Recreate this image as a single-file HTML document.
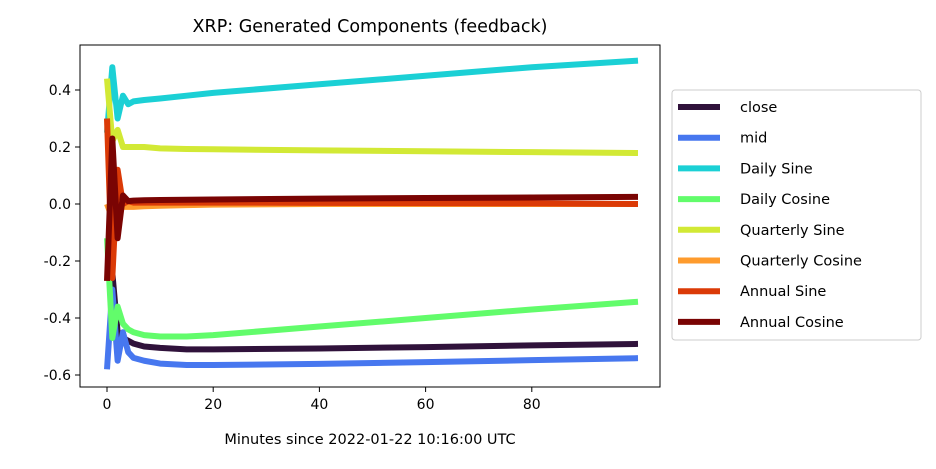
<!DOCTYPE html>
<html><head><meta charset="utf-8"><style>
body{margin:0;background:#fff;font-family:"Liberation Sans","DejaVu Sans",sans-serif}
</style></head><body>
<svg id="c" width="936" height="464" font-family="DejaVu Sans, Liberation Sans, sans-serif"></svg>
<script>
const xs=[0,1,2,3,4,5,7,10,15,20,40,60,80,100];
const close=[-0.27,-0.24,-0.45,-0.47,-0.48,-0.49,-0.5,-0.505,-0.51,-0.51,-0.507,-0.502,-0.496,-0.491];
const mid=[-0.58,-0.3,-0.55,-0.45,-0.52,-0.54,-0.55,-0.56,-0.565,-0.565,-0.561,-0.555,-0.548,-0.541];
const dailySine=[0.25,0.48,0.3,0.38,0.35,0.36,0.365,0.37,0.38,0.39,0.42,0.45,0.48,0.503];
const dailyCos=[-0.12,-0.47,-0.36,-0.42,-0.44,-0.45,-0.46,-0.465,-0.465,-0.46,-0.43,-0.4,-0.37,-0.343];
const qSine=[0.44,0.22,0.26,0.2,0.2,0.2,0.2,0.195,0.193,0.192,0.188,0.185,0.182,0.179];
const qCos=[0.0,-0.05,0.02,-0.01,-0.01,-0.01,-0.008,-0.006,-0.004,-0.002,0.0,0.0,0.0,0.0];
const aSine=[0.3,-0.26,0.12,0.0,0.01,0.005,0.005,0.005,0.005,0.005,0.004,0.003,0.002,0.0];
const aCos=[-0.27,0.23,-0.12,0.03,0.01,0.012,0.013,0.014,0.015,0.016,0.019,0.021,0.023,0.025];
const names=["close","mid","Daily Sine","Daily Cosine","Quarterly Sine","Quarterly Cosine","Annual Sine","Annual Cosine"];
const colors=["#30123b","#4777ef","#1bd0d5","#62fc6b","#d2e935","#fe9b2d","#db3a07","#7a0403"];
const series=[close,mid,dailySine,dailyCos,qSine,qCos,aSine,aCos];
const xTicks=[0,20,40,60,80];
const yTicks=[0.4,0.2,0.0,-0.2,-0.4,-0.6];
const X=v=>107+v*5.31, Y=v=>204-v*285;
const svg=document.getElementById('c');const NS='http://www.w3.org/2000/svg';
function mk(t,a,p){const e=document.createElementNS(NS,t);for(const k in a)e.setAttribute(k,a[k]);(p||svg).appendChild(e);return e;}
const clipd=mk('defs',{});const cp=mk('clipPath',{id:'cp'},clipd);mk('rect',{x:80,y:45,width:580,height:342},cp);
series.forEach((s,i)=>{const p=mk('polyline',{points:s.map((v,j)=>X(xs[j])+','+Y(v)).join(' '),fill:'none',stroke:colors[i],'stroke-width':6,'stroke-linejoin':'round','clip-path':'url(#cp)'});

});
const fr=mk('rect',{x:80,y:45,width:580,height:342,fill:'none',stroke:'#000','stroke-width':1});

xTicks.forEach(t=>{mk('line',{x1:X(t),x2:X(t),y1:387,y2:392,stroke:'#000'});const e=mk('text',{x:X(t),y:409,'font-size':14,'text-anchor':'middle'});e.textContent=t;
});
yTicks.forEach(t=>{mk('line',{x1:75,x2:80,y1:Y(t),y2:Y(t),stroke:'#000'});const e=mk('text',{x:71,y:Y(t)+5,'font-size':14,'text-anchor':'end'});e.textContent=t.toFixed(1);
});
let e=mk('text',{x:370,y:444,'font-size':14.5,'text-anchor':'middle'});e.textContent='Minutes since 2022-01-22 10:16:00 UTC';

e=mk('text',{x:370,y:32,'font-size':17.5,'text-anchor':'middle'});e.textContent='XRP: Generated Components (feedback)';

const lg=mk('g',{});
mk('rect',{x:672,y:90,width:249,height:250,rx:3,fill:'#fff',stroke:'#ccc'},lg);
names.forEach((n,i)=>{const y=107+i*30.7;const g=mk('g',{},lg);
mk('line',{x1:678,x2:720,y1:y,y2:y,stroke:colors[i],'stroke-width':6},g);const t=mk('text',{x:740,y:y+5,'font-size':14.5},g);t.textContent=n;});
</script></body></html>
